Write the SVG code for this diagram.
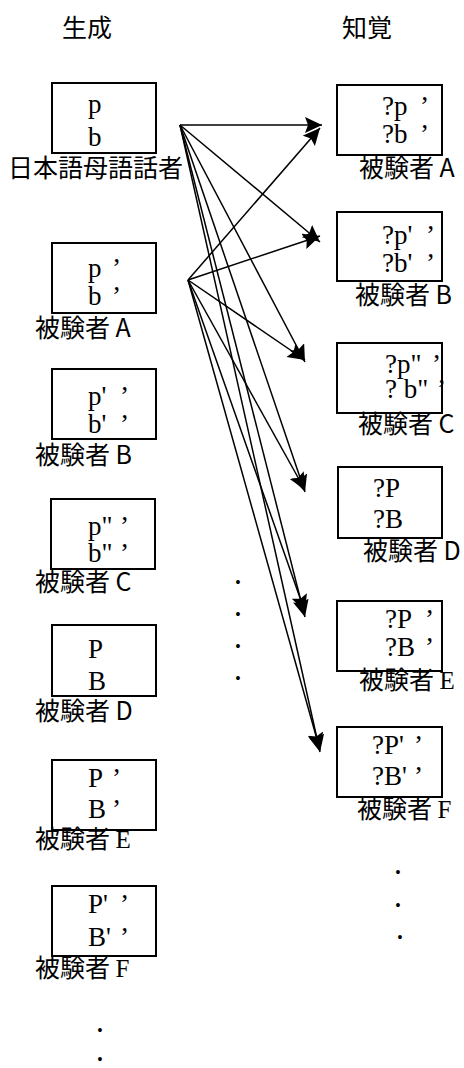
<svg xmlns="http://www.w3.org/2000/svg" width="464" height="1068" viewBox="0 0 464 1068">
<style>
.box{fill:#fff;stroke:#000;stroke-width:2}
.t{font-family:"Liberation Serif",serif;font-size:27px;fill:#000}
.lb{font-family:"Noto Sans CJK JP",sans-serif;font-size:25px;fill:#000}
.sf{font-family:"Liberation Serif",serif}
.dot{font-family:"Liberation Sans",sans-serif;font-size:14px;fill:#000;text-anchor:middle;dominant-baseline:central}
.c line{stroke:#000;stroke-width:1.5;marker-end:url(#ah)}
</style>
<defs>
<marker id="ah" markerUnits="userSpaceOnUse" markerWidth="20" markerHeight="18" refX="17" refY="8" orient="auto">
<path d="M0,0 L17,8 L0,16 L3,8 Z" fill="#000"/>
</marker>
</defs>
<rect width="464" height="1068" fill="#fff"/>
<text class="lb" x="62" y="37">生成</text>
<text class="lb" x="342" y="37">知覚</text>

<g id="L0"><rect class="box" x="52" y="83" width="104" height="70"/><text class="t" x="88" y="113">p</text><text class="t" x="88" y="146">b</text><text class="lb" x="8" y="177">日本語母語話者</text></g>
<g id="L1"><rect class="box" x="52" y="243" width="104" height="70"/><text class="t" x="88" y="277">p<tspan x="112">’</tspan></text><text class="t" x="88" y="305">b<tspan x="112">’</tspan></text><text class="lb" x="35" y="337">被験者 A</text></g>
<g id="L2"><rect class="box" x="52" y="369" width="104" height="70"/><text class="t" x="88" y="405">p'<tspan x="120">’</tspan></text><text class="t" x="88" y="433">b'<tspan x="120">’</tspan></text><text class="lb" x="35" y="464">被験者 B</text></g>
<g id="L3"><rect class="box" x="51" y="499" width="104" height="70"/><text class="t" x="88" y="535">p"<tspan x="120">’</tspan></text><text class="t" x="88" y="562">b"<tspan x="120">’</tspan></text><text class="lb" x="35" y="591">被験者 C</text></g>
<g id="L4"><rect class="box" x="52" y="625" width="104" height="71"/><text class="t" x="88" y="658">P</text><text class="t" x="88" y="690">B</text><text class="lb" x="35" y="720">被験者 D</text></g>
<g id="L5"><rect class="box" x="52" y="760" width="104" height="70"/><text class="t" x="88" y="787">P<tspan x="112">’</tspan></text><text class="t" x="88" y="818">B<tspan x="112">’</tspan></text><text class="lb" x="35" y="848">被験者 <tspan class="sf">E</tspan></text></g>
<g id="L6"><rect class="box" x="52" y="886" width="104" height="70"/><text class="t" x="88" y="913">P'<tspan x="120">’</tspan></text><text class="t" x="88" y="946">B'<tspan x="120">’</tspan></text><text class="lb" x="35" y="977">被験者 <tspan class="sf">F</tspan></text></g>

<g id="R1"><rect class="box" x="337" y="85" width="105" height="70"/><text class="t" x="382" y="115">?p<tspan x="420">’</tspan></text><text class="t" x="382" y="143">?b<tspan x="420">’</tspan></text><text class="lb" x="359" y="177">被験者 A</text></g>
<g id="R2"><rect class="box" x="337" y="212" width="105" height="69"/><text class="t" x="382" y="244">?p'<tspan x="426">’</tspan></text><text class="t" x="382" y="272">?b'<tspan x="426">’</tspan></text><text class="lb" x="355" y="304">被験者 B</text></g>
<g id="R3"><rect class="box" x="337" y="343" width="105" height="70"/><text class="t" x="385" y="373">?p"<tspan x="432">’</tspan></text><text class="t" x="385" y="398">? b"<tspan x="437">’</tspan></text><text class="lb" x="358" y="433">被験者 C</text></g>
<g id="R4"><rect class="box" x="338" y="467" width="104" height="71"/><text class="t" x="373" y="497">?P</text><text class="t" x="373" y="528">?B</text><text class="lb" x="363" y="560">被験者 D</text></g>
<g id="R5"><rect class="box" x="337" y="601" width="105" height="70"/><text class="t" x="385" y="628">?P<tspan x="425">’</tspan></text><text class="t" x="385" y="656">?B<tspan x="425">’</tspan></text><text class="lb" x="359" y="689">被験者 <tspan class="sf">E</tspan></text></g>
<g id="R6"><rect class="box" x="337" y="727" width="105" height="70"/><text class="t" x="372" y="754">?P'<tspan x="414">’</tspan></text><text class="t" x="372" y="785">?B'<tspan x="414">’</tspan></text><text class="lb" x="357" y="818">被験者 <tspan class="sf">F</tspan></text></g>

<g id="connectors" class="c">
<line x1="180" y1="125" x2="322" y2="125"/>
<line x1="180" y1="125" x2="320" y2="242"/>
<line x1="180" y1="125" x2="305" y2="362"/>
<line x1="180" y1="125" x2="305" y2="492"/>
<line x1="180" y1="125" x2="305" y2="617"/>
<line x1="180" y1="125" x2="320" y2="752"/>
<line x1="188" y1="280" x2="320" y2="128"/>
<line x1="188" y1="280" x2="320" y2="236"/>
<line x1="188" y1="280" x2="305" y2="360"/>
<line x1="188" y1="280" x2="305" y2="490"/>
<line x1="188" y1="280" x2="305" y2="612"/>
<line x1="188" y1="280" x2="320" y2="750"/>
</g>

<g id="dots">
<text class="dot" x="238" y="582">•</text>
<text class="dot" x="238" y="614">•</text>
<text class="dot" x="238" y="646">•</text>
<text class="dot" x="238" y="678">•</text>
<text class="dot" x="398" y="872">•</text>
<text class="dot" x="398" y="905">•</text>
<text class="dot" x="400" y="937">•</text>
<text class="dot" x="100" y="1030">•</text>
<text class="dot" x="100" y="1059">•</text>
</g>
</svg>
